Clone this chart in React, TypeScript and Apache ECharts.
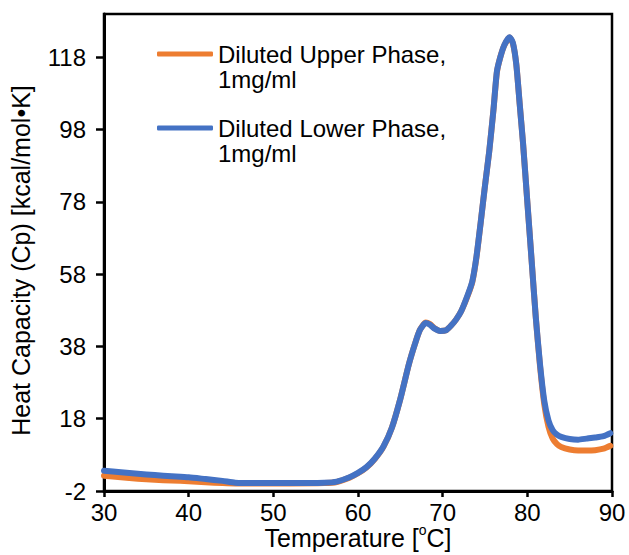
import React, { useEffect, useRef } from "react";
import * as echarts from "echarts";

const seriesNames = ["Diluted Upper Phase,\n1mg/ml", "Diluted Lower Phase,\n1mg/ml"];
const seriesColors = ["#ED7D31", "#4472C4"];

const xTicks = [30, 40, 50, 60, 70, 80, 90];
const yTicks = [-2, 18, 38, 58, 78, 98, 118];

// Diluted Upper Phase (orange)
const upperT = [30, 32, 34, 36, 38, 40, 42, 44, 45.5, 48, 52, 56, 57.5, 59, 60, 61, 62, 63, 64, 65, 66, 66.7, 67.3, 68, 68.5, 69, 69.7, 70.4, 71, 71.6, 72.2, 73, 73.5, 74, 74.5, 75, 75.5, 76, 76.4, 76.8, 77.3, 77.9, 78.3, 78.7, 79.1, 79.5, 80, 80.5, 81, 81.5, 82, 82.5, 83, 83.5, 84, 85, 86, 87, 88, 89, 89.8];
const upperCp = [2.2, 1.8, 1.4, 1.1, 0.9, 0.7, 0.4, 0.2, 0.1, 0.1, 0.1, 0.2, 0.5, 1.7, 2.9, 4.5, 6.9, 10.2, 15.5, 23.5, 33, 38.5, 42.5, 44.6, 44.2, 43.1, 42.3, 42.5, 43.8, 45.5, 47.8, 52.3, 55.8, 62.8, 72.5, 82.5, 92, 103.5, 113.8, 118, 121.4, 123.5, 121.8, 116, 105, 94, 78, 62, 46, 32.5, 22, 15.8, 12.5, 11, 10.2, 9.5, 9.2, 9.2, 9.3, 9.7, 10.5];

// Diluted Lower Phase (blue)
const lowerT = [30, 32, 34, 36, 38, 40, 42, 44, 45.5, 48, 52, 56, 57.5, 59, 60, 61, 62, 63, 64, 65, 66, 66.7, 67.3, 68, 68.5, 69, 69.7, 70.4, 71, 71.6, 72.2, 73, 73.5, 74, 74.5, 75, 75.5, 76, 76.4, 76.8, 77.3, 77.9, 78.3, 78.7, 79.1, 79.5, 80, 80.5, 81, 81.5, 82, 82.5, 83, 83.5, 84, 85, 86, 87, 88, 89, 89.8];
const lowerCp = [3.6, 3.2, 2.8, 2.4, 2.1, 1.8, 1.3, 0.8, 0.3, 0.2, 0.2, 0.3, 0.6, 1.8, 3.0, 4.6, 7.0, 10.3, 15.5, 23.5, 33, 38.5, 42.5, 44.5, 44, 43, 42.3, 42.5, 43.8, 45.5, 47.8, 52.5, 56, 63, 72.5, 82.5, 92, 103.5, 114, 118, 121.5, 123.6, 122, 116, 105, 94, 78, 62, 46, 33, 23, 17.5, 14.8, 13.6, 13, 12.4, 12.2, 12.5, 12.8, 13.2, 14];

const FONT = "'Liberation Sans', Arial, sans-serif";

export default function App() {
  const ref = useRef<HTMLDivElement>(null);
  useEffect(() => {
    document.body.style.margin = "0";
    if (!ref.current) return;
    const chart = echarts.init(ref.current, null, { renderer: "svg" });
    const series = [
      { name: seriesNames[0], t: upperT, v: upperCp, color: seriesColors[0] },
      { name: seriesNames[1], t: lowerT, v: lowerCp, color: seriesColors[1] },
    ].map((s) => ({
      type: "line",
      name: s.name,
      data: s.t.map((t, i) => [t, s.v[i]]),
      symbol: "none",
      showSymbol: false,
      smooth: 0.2,
      lineStyle: { color: s.color, width: 6, cap: "round", join: "round" },
      itemStyle: { color: s.color },
    }));
    chart.setOption({
      animation: false,
      textStyle: { fontFamily: FONT, color: "#000" },
      grid: {
        left: 104,
        right: 17,
        top: 14,
        bottom: 64,
        containLabel: false,
        outerBoundsMode: "none",
        show: true,
        borderColor: "#000",
        borderWidth: 2.5,
        backgroundColor: "transparent",
      },
      legend: {
        orient: "vertical",
        left: 157,
        top: 17,
        padding: 0,
        itemWidth: 56,
        itemHeight: 5,
        itemGap: 0,
        icon: "roundRect",
        itemStyle: { borderWidth: 0 },
        formatter: (name: string) =>
          "{gap| }\n" + name.split("\n").map((l) => `{a|${l}}`).join("\n"),
        textStyle: {
          fontFamily: FONT,
          fontSize: 24,
          color: "#000",
          rich: {
            gap: { fontFamily: FONT, fontSize: 24, lineHeight: 25 },
            a: { fontFamily: FONT, fontSize: 24, lineHeight: 25, color: "#000" },
          },
        },
        data: seriesNames,
      },
      xAxis: {
        type: "value",
        min: 30,
        max: 90,
        interval: 10,
        axisLine: { show: true, onZero: false, lineStyle: { color: "#000", width: 3 } },
        axisTick: { show: true, length: 6, customValues: xTicks, lineStyle: { color: "#000", width: 2.5 } },
        axisLabel: { customValues: xTicks, fontFamily: FONT, fontSize: 24, lineHeight: 16, color: "#000", margin: 13 },
        splitLine: { show: false },
        name: "Temperature [{sup|o}C]",
        nameLocation: "middle",
        nameGap: 38,
        nameMoveOverlap: false,
        nameTextStyle: {
          fontFamily: FONT,
          fontSize: 25,
          lineHeight: 18,
          color: "#000",
          rich: { sup: { fontFamily: FONT, fontSize: 14, height: 2, lineHeight: 2, color: "#000", verticalAlign: "top" } },
        },
      },
      yAxis: {
        type: "value",
        min: -2,
        max: 130,
        axisLine: { show: true, onZero: false, lineStyle: { color: "#000", width: 3 } },
        axisTick: { show: true, length: 8, customValues: yTicks, lineStyle: { color: "#000", width: 2.5 } },
        axisLabel: { customValues: yTicks, fontFamily: FONT, fontSize: 24, color: "#000", margin: 18 },
        splitLine: { show: false },
        name: "Heat Capacity (Cp) [kcal/mol•K]",
        nameLocation: "middle",
        nameGap: 71,
        nameMoveOverlap: false,
        nameTextStyle: { fontFamily: FONT, fontSize: 25, color: "#000", padding: [0, 16, 0, 0] },
      },
      series,
    });
    return () => chart.dispose();
  }, []);
  return <div ref={ref} style={{ width: 629, height: 555 }} />;
}
